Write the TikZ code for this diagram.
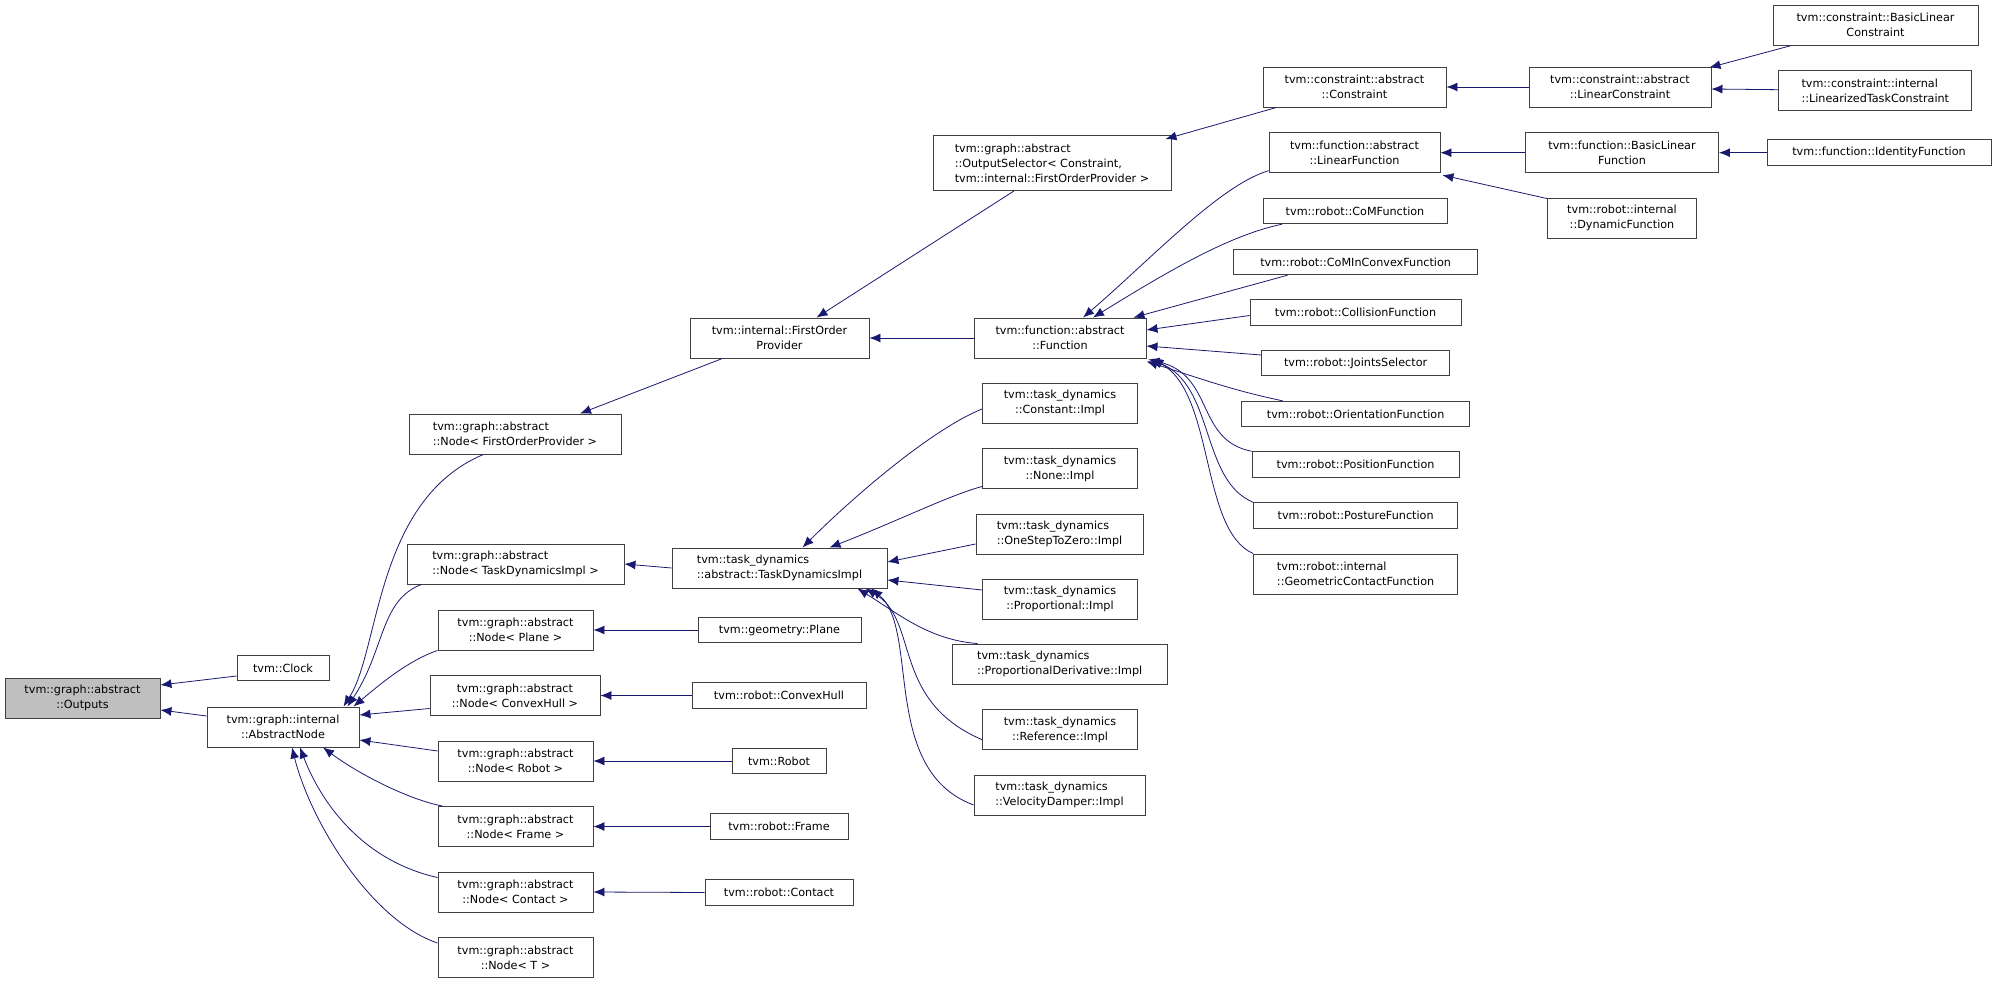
\documentclass[tikz,border=0pt]{standalone}
\usepackage{fontspec}
\setmainfont{DejaVu Sans}
\usetikzlibrary{arrows.meta,calc}
\definecolor{edgeblue}{HTML}{191970}
\begin{document}
\begin{tikzpicture}[x=1pt,y=-1pt]
    \tikzstyle{cls}=[
      draw=black!75,
      line width=0.9pt,
      inner sep=0pt,
      align=center,
      font=\fontsize{11.2}{15}\selectfont,
      minimum height=40pt
    ]
    \tikzstyle{one}=[cls,minimum height=25.5pt]
    \tikzstyle{edge}=[{Latex[length=11pt,width=9pt]}-,draw=edgeblue,line width=0.8pt]
    \useasboundingbox (0,0) rectangle (1992,981);

    % left part
    \node[cls,fill=black!25,minimum width=155pt] (outputs) at (82.5,698) {tvm::graph::abstract\\::Outputs};
    \node[one,minimum width=92pt] (clock) at (283,668) {tvm::Clock};
    \node[cls,minimum width=152pt] (abstractnode) at (283,727) {tvm::graph::internal\\::AbstractNode};

    \node[cls,align=left,minimum width=212pt] (node fop) at (515,434) {tvm::graph::abstract\\::Node< FirstOrderProvider >};
    \node[cls,align=left,minimum width=217pt] (node tdi) at (515.5,564) {tvm::graph::abstract\\::Node< TaskDynamicsImpl >};
    \node[cls,minimum width=155pt] (node plane) at (515.5,630) {tvm::graph::abstract\\::Node< Plane >};
    \node[cls,minimum width=170pt] (node hull) at (515,695.5) {tvm::graph::abstract\\::Node< ConvexHull >};
    \node[cls,minimum width=155pt] (node robot) at (515.5,761) {tvm::graph::abstract\\::Node< Robot >};
    \node[cls,minimum width=155pt] (node frame) at (515.5,826.5) {tvm::graph::abstract\\::Node< Frame >};
    \node[cls,minimum width=155pt] (node contact) at (515.5,892) {tvm::graph::abstract\\::Node< Contact >};
    \node[cls,minimum width=155pt] (node t) at (515.5,957.5) {tvm::graph::abstract\\::Node< T >};

    % middle part
    \node[cls,minimum width=179pt] (fop) at (779.5,338) {tvm::internal::FirstOrder\\Provider};
    \node[cls,align=left,minimum width=215pt] (tdi) at (779.5,568) {tvm::task\_dynamics\\::abstract::TaskDynamicsImpl};
    \node[one,minimum width=163pt] (plane) at (779.5,630) {tvm::geometry::Plane};
    \node[one,minimum width=174pt] (hull) at (779,695.5) {tvm::robot::ConvexHull};
    \node[one,minimum width=94pt] (robot) at (779,761) {tvm::Robot};
    \node[one,minimum width=138pt] (frame) at (779,826.5) {tvm::robot::Frame};
    \node[one,minimum width=148pt] (contact) at (779,892.5) {tvm::robot::Contact};

    \node[cls,align=left,minimum width=238pt,minimum height=55pt] (selector) at (1052,163) {tvm::graph::abstract\\::OutputSelector< Constraint,\\ tvm::internal::FirstOrderProvider >};
    \node[cls,minimum width=172pt] (function) at (1060,338) {tvm::function::abstract\\::Function};
    \node[cls,minimum width=155pt] (constant) at (1060,403) {tvm::task\_dynamics\\::Constant::Impl};
    \node[cls,minimum width=155pt] (none) at (1060,468.5) {tvm::task\_dynamics\\::None::Impl};
    \node[cls,align=left,minimum width=167pt] (onestep) at (1059.5,534) {tvm::task\_dynamics\\::OneStepToZero::Impl};
    \node[cls,minimum width=155pt] (proportional) at (1060,599) {tvm::task\_dynamics\\::Proportional::Impl};
    \node[cls,align=left,minimum width=214.5pt] (propderiv) at (1059.7,664) {tvm::task\_dynamics\\::ProportionalDerivative::Impl};
    \node[cls,minimum width=155pt] (reference) at (1060,729.7) {tvm::task\_dynamics\\::Reference::Impl};
    \node[cls,align=left,minimum width=171pt] (velocity) at (1059.5,795) {tvm::task\_dynamics\\::VelocityDamper::Impl};

    % right part
    \node[cls,minimum width=183pt] (constraint) at (1354.5,87) {tvm::constraint::abstract\\::Constraint};
    \node[cls,minimum width=182pt] (linconstraint) at (1620,87) {tvm::constraint::abstract\\::LinearConstraint};
    \node[cls,minimum width=205pt] (basicconstraint) at (1875.5,25.3) {tvm::constraint::BasicLinear\\Constraint};
    \node[cls,align=left,minimum width=193pt] (linearized) at (1875.3,90.7) {tvm::constraint::internal\\::LinearizedTaskConstraint};
    \node[cls,minimum width=171pt] (linfunction) at (1354.5,152.7) {tvm::function::abstract\\::LinearFunction};
    \node[cls,minimum width=193pt] (basicfunction) at (1622,152.7) {tvm::function::BasicLinear\\Function};
    \node[one,minimum width=224pt] (identity) at (1879,152.7) {tvm::function::IdentityFunction};
    \node[cls,minimum width=149pt] (dynamic) at (1622,218) {tvm::robot::internal\\::DynamicFunction};
    \node[one,minimum width=184pt] (com) at (1355,211) {tvm::robot::CoMFunction};
    \node[one,minimum width=244pt] (cominconvex) at (1355.6,262) {tvm::robot::CoMInConvexFunction};
    \node[one,minimum width=211pt] (collision) at (1355.5,312.5) {tvm::robot::CollisionFunction};
    \node[one,minimum width=188pt] (joints) at (1355.6,363) {tvm::robot::JointsSelector};
    \node[one,minimum width=228pt] (orientation) at (1355.6,414) {tvm::robot::OrientationFunction};
    \node[one,minimum width=207pt] (position) at (1355.6,464.5) {tvm::robot::PositionFunction};
    \node[one,minimum width=204pt] (posture) at (1355.6,515.5) {tvm::robot::PostureFunction};
    \node[cls,align=left,minimum width=204pt] (geometric) at (1355.6,574) {tvm::robot::internal\\::GeometricContactFunction};

    % inheritance edges
    \draw[edge] ([yshift=13]outputs.east) -- ([yshift=-8]clock.west);
    \draw[edge] ([yshift=-12]outputs.east) -- ([yshift=11]abstractnode.west);
    \draw[edge] ([xshift=-16]abstractnode.north east) .. controls (380,650) and (375,500) .. ([xshift=-138]node fop.south east);
    \draw[edge] ([xshift=-12]abstractnode.north east) .. controls (385,650) and (380,600) .. ([xshift=15]node tdi.south west);
    \draw[edge] ([xshift=-6]abstractnode.north east) .. controls (385,680) and (410,660) .. (node plane.south west);
    \draw[edge] ([yshift=12]abstractnode.east) -- ([yshift=-13]node hull.west);
    \draw[edge] ([yshift=-13]abstractnode.east) -- ([yshift=10]node robot.west);
    \draw[edge] ([xshift=40]abstractnode.south) .. controls (360,775) and (410,800) .. ([xshift=5]node frame.north west);
    \draw[edge] ([xshift=17]abstractnode.south) .. controls (320,800) and (360,860) .. ([yshift=-6]node contact.north west);
    \draw[edge] ([xshift=9]abstractnode.south) .. controls (310,820) and (370,920) .. ([yshift=-6]node t.north west);

    \draw[edge] ([xshift=65]node fop.north) -- ([xshift=33]fop.south west);
    \draw[edge] ([xshift=37]fop.north) -- ([xshift=-38]selector.south);
    \draw[edge] ([xshift=-6,yshift=-4]selector.north east) -- ([xshift=-78]constraint.south);
    \draw[edge] (constraint.east) -- (linconstraint.west);
    \draw[edge] ([xshift=-2,yshift=-1]linconstraint.north east) -- ([xshift=-85]basicconstraint.south);
    \draw[edge] ([yshift=-2]linconstraint.east) -- ([yshift=1]linearized.west);

    \draw[edge] (fop.east) -- (function.west);
    \draw[edge] ([xshift=23]function.north) .. controls (1150,260) and (1220,185) .. ([yshift=-18]linfunction.west);
    \draw[edge] (linfunction.east) -- (basicfunction.west);
    \draw[edge] (basicfunction.east) -- (identity.west);
    \draw[edge] ([xshift=2,yshift=-2]linfunction.south east) -- ([yshift=-1]dynamic.north west);
    \draw[edge] ([xshift=33]function.north) .. controls (1170,270) and (1230,235) .. ([xshift=-73]com.south);
    \draw[edge] ([xshift=-13]function.north east) -- ([xshift=-68]cominconvex.south);
    \draw[edge] ([yshift=8]function.east) -- ([yshift=-3]collision.west);
    \draw[edge] ([yshift=-8]function.east) -- ([yshift=8]joints.west);
    \draw[edge] ([yshift=-3]function.south east) .. controls (1190,375) and (1230,390) .. ([xshift=-73]orientation.north);
    \draw[edge] ([xshift=2,yshift=-1]function.south east) .. controls (1215,375) and (1195,440) .. (position.north west);
    \draw[edge] ([xshift=4,yshift=-1]function.south east) .. controls (1215,385) and (1200,480) .. (posture.north west);
    \draw[edge] ([xshift=6]function.south east) .. controls (1215,395) and (1200,530) .. (geometric.north west);

    \draw[edge] (node tdi.east) -- (tdi.west);
    \draw[edge] ([xshift=23]tdi.north) .. controls (850,500) and (930,430) .. ([yshift=-6]constant.west);
    \draw[edge] ([xshift=50]tdi.north) .. controls (900,520) and (950,495) .. ([yshift=-18]none.west);
    \draw[edge] ([yshift=6]tdi.east) -- ([yshift=-10]onestep.west);
    \draw[edge] ([yshift=-12]tdi.east) -- ([yshift=9]proportional.west);
    \draw[edge] ([xshift=-30]tdi.south east) .. controls (900,615) and (930,640) .. ([xshift=-82]propderiv.north);
    \draw[edge] ([xshift=-22]tdi.south east) .. controls (920,620) and (890,700) .. ([yshift=-10]reference.west);
    \draw[edge] ([xshift=-16]tdi.south east) .. controls (920,630) and (880,770) .. ([yshift=-10]velocity.west);

    \draw[edge] (node plane.east) -- (plane.west);
    \draw[edge] (node hull.east) -- (hull.west);
    \draw[edge] (node robot.east) -- (robot.west);
    \draw[edge] (node frame.east) -- (frame.west);
    \draw[edge] (node contact.east) -- (contact.west);
\end{tikzpicture}
\end{document}
